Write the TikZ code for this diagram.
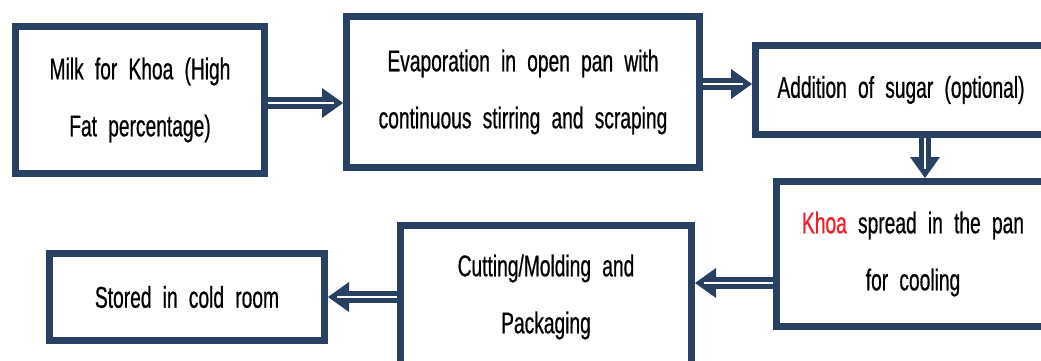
\documentclass[tikz,border=0pt]{standalone}
\usepackage{fontspec}
\setmainfont[FakeStretch=0.64,WordSpace=2.1,FakeBold=0.6]{Liberation Sans}
\usetikzlibrary{arrows.meta}
\definecolor{navy}{RGB}{40,64,98}
\definecolor{khoared}{RGB}{240,30,40}
\tikzset{
  stepbox/.style={draw=navy, line width=7pt, fill=white, inner sep=0pt, align=center,
    font=\fontsize{30}{57}\selectfont, text=black},
  flowarrow/.style={draw=navy, line width=12pt,
    -{Triangle[length=21pt,width=30pt,line width=0pt]},
    postaction={draw=white, line width=1.3pt, shorten >=9pt, -}}
}
\begin{document}
\begin{tikzpicture}[x=1pt,y=1pt]
\useasboundingbox (0,0) rectangle (1041,360);
\clip (0,0) rectangle (1041,360);
\node[stepbox, minimum width=249pt, minimum height=147pt] (b1) at (140,260) {Milk for Khoa (High\\Fat percentage)};
\node[stepbox, minimum width=353pt, minimum height=151pt] (b2) at (523,268) {Evaporation in open pan with\\continuous stirring and scraping};
\node[stepbox, minimum width=291pt, minimum height=89pt] (b3) at (901,270) {Addition of sugar (optional)};
\node[stepbox, minimum width=273pt, minimum height=145pt] (b4) at (913,106) {\textcolor{khoared}{Khoa} spread in the pan\\for cooling};
\node[stepbox, minimum width=291pt, minimum height=143pt] (b5) at (546,63) {Cutting/Molding and\\Packaging};
\node[stepbox, minimum width=275pt, minimum height=87pt] (b6) at (187,63) {Stored in cold room};
\draw[flowarrow] ([yshift=-3pt]b1.east) -- ([yshift=-3pt]b1.east -| b2.west);
\draw[flowarrow] ([yshift=8pt]b2.east) -- ([yshift=8pt]b2.east -| b3.west);
\draw[flowarrow] ([xshift=24pt]b3.south) -- ([xshift=24pt]b3.south |- b4.north);
\draw[flowarrow] ([yshift=-29pt]b4.west) -- ([yshift=-29pt]b4.west -| b5.east);
\draw[flowarrow] (b5.west) -- (b6.east);
\end{tikzpicture}
\end{document}
